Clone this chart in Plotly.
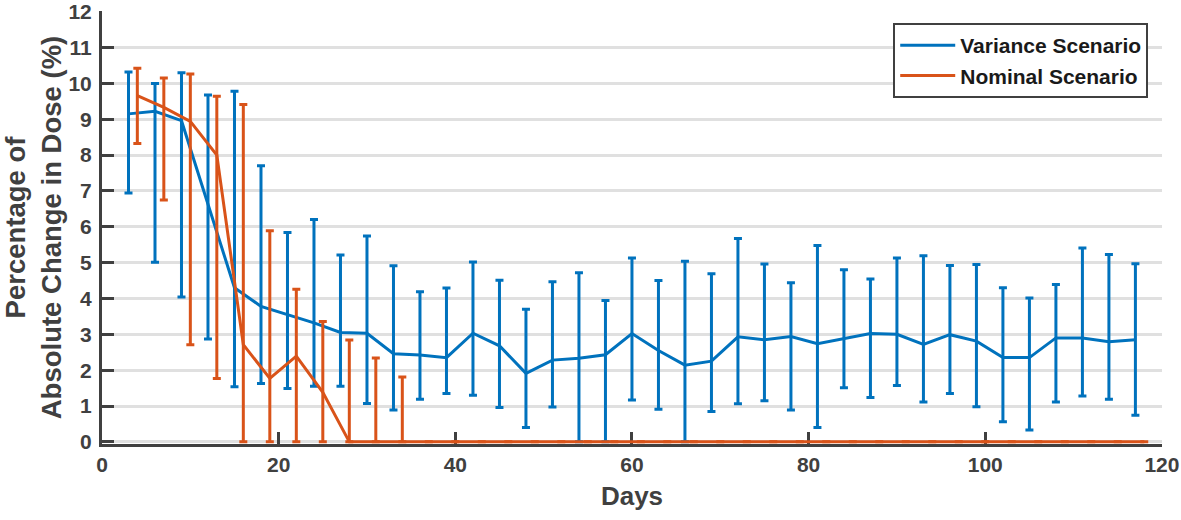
import plotly.graph_objects as go

# ---------------------------------------------------------------
# data (days, mean, top and bottom of the bars)
# ---------------------------------------------------------------
variance_days = [3, 6, 9, 12, 15, 18, 21, 24, 27, 30, 33, 36, 39, 42, 45, 48, 51, 54, 57, 60,
                 63, 66, 69, 72, 75, 78, 81, 84, 87, 90, 93, 96, 99, 102, 105, 108, 111, 114, 117]
variance_mean = [9.15, 9.22, 8.96, 6.6, 4.30, 3.78, 3.55, 3.32, 3.05, 3.03, 2.46, 2.42, 2.35,
                 3.03, 2.68, 1.91, 2.28, 2.33, 2.43, 3.02, 2.55, 2.14, 2.25, 2.93, 2.85, 2.94,
                 2.74, 2.88, 3.02, 3.00, 2.72, 2.99, 2.81, 2.35, 2.35, 2.90, 2.90, 2.79, 2.85]
variance_upper = [10.32, 10.0, 10.30, 9.68, 9.78, 7.70, 5.84, 6.20, 5.21, 5.74, 4.91, 4.19, 4.29,
                  5.02, 4.51, 3.70, 4.47, 4.72, 3.94, 5.13, 4.50, 5.04, 4.69, 5.67, 4.96, 4.44,
                  5.48, 4.80, 4.54, 5.13, 5.19, 4.92, 4.95, 4.30, 4.01, 4.39, 5.41, 5.23, 4.97]
variance_lower = [6.94, 5.01, 4.04, 2.87, 1.54, 1.63, 1.49, 1.55, 1.55, 1.07, 0.89, 1.19, 1.35,
                  1.30, 0.96, 0.40, 0.97, 0.0, 0.0, 1.17, 0.91, 0.0, 0.85, 1.06, 1.15, 0.89,
                  0.40, 1.51, 1.24, 1.57, 1.11, 1.35, 0.98, 0.56, 0.33, 1.11, 1.28, 1.19, 0.74]

nominal_days = [4, 7, 10, 13, 16, 19, 22, 25, 28, 31, 34, 37, 40, 43, 46, 49, 52, 55, 58, 61,
                64, 67, 70, 73, 76, 79, 82, 85, 88, 91, 94, 97, 100, 103, 106, 109, 112, 115, 118]
nominal_mean = [9.66, 9.33, 8.94, 8.0, 2.71, 1.77, 2.39, 1.38, 0, 0, 0, 0, 0,
                0, 0, 0, 0, 0, 0, 0, 0, 0, 0, 0, 0, 0,
                0, 0, 0, 0, 0, 0, 0, 0, 0, 0, 0, 0, 0]
nominal_upper = [10.42, 10.15, 10.26, 9.64, 9.41, 5.89, 4.26, 3.36, 2.84, 2.34, 1.81, 0, 0,
                 0, 0, 0, 0, 0, 0, 0, 0, 0, 0, 0, 0, 0,
                 0, 0, 0, 0, 0, 0, 0, 0, 0, 0, 0, 0, 0]
nominal_lower = [8.32, 6.75, 2.71, 1.77, 0, 0, 0, 0, 0, 0, 0, 0, 0,
                 0, 0, 0, 0, 0, 0, 0, 0, 0, 0, 0, 0, 0,
                 0, 0, 0, 0, 0, 0, 0, 0, 0, 0, 0, 0, 0]

x_ticks = [0, 20, 40, 60, 80, 100, 120]
y_ticks = [0, 1, 2, 3, 4, 5, 6, 7, 8, 9, 10, 11, 12]

BLUE = "#0072BD"
ORANGE = "#D95319"
AXIS = "#404040"
FONT = "Liberation Sans, Arial, sans-serif"


def series(name, days, mean, upper, lower, color):
    return go.Scatter(
        x=days, y=mean, name=name, mode="lines",
        line=dict(color=color, width=3),
        error_y=dict(
            type="data", symmetric=False,
            array=[u - m for u, m in zip(upper, mean)],
            arrayminus=[m - l for m, l in zip(mean, lower)],
            color=color, thickness=3, width=4,
        ),
        cliponaxis=False,
    )


fig = go.Figure()
fig.add_trace(series("Variance Scenario", variance_days, variance_mean,
                     variance_upper, variance_lower, BLUE))
fig.add_trace(series("Nominal Scenario", nominal_days, nominal_mean,
                     nominal_upper, nominal_lower, ORANGE))

fig.update_layout(
    width=1181, height=520,
    margin=dict(l=102, r=19, t=11, b=76),
    plot_bgcolor="white", paper_bgcolor="white",
    font=dict(family=FONT, color=AXIS),
    showlegend=True,
    legend=dict(
        x=0.987, xanchor="right", y=0.972, yanchor="top",
        bgcolor="white", bordercolor=AXIS, borderwidth=2,
        font=dict(size=21, color="#1a1a1a", weight="bold"),
        itemwidth=55,
        tracegroupgap=0,
    ),
    xaxis=dict(
        range=[0, 120.01], tickvals=x_ticks,
        showgrid=False, zeroline=False,
        showline=True, linecolor=AXIS, linewidth=3,
        ticks="inside", ticklen=12, tickwidth=3, tickcolor=AXIS,
        tickfont=dict(size=21, weight="bold", color=AXIS),
        ticklabelstandoff=0, ticklabeloverflow="allow",
        title=dict(text="Days", font=dict(size=26, weight="bold", color=AXIS), standoff=12),
        automargin=False,
        layer="below traces",
    ),
    yaxis=dict(
        range=[-0.06, 12.02], tickvals=y_ticks,
        showgrid=True, gridcolor="#e0e0e0", gridwidth=3,
        zeroline=False,
        showline=True, linecolor=AXIS, linewidth=3,
        ticks="inside", ticklen=12, tickwidth=3, tickcolor=AXIS,
        tickfont=dict(size=21, weight="bold", color=AXIS),
        ticklabelstandoff=3, ticklabeloverflow="allow",
        title=dict(text="Percentage of<br>Absolute Change in Dose (%)",
                   font=dict(size=27.5, weight="bold", color=AXIS), standoff=24),
        automargin=False,
        layer="below traces",
    ),
)

# drop the default 8px page margin so the figure sits at the window corner
fig.write_html("out.html", config={"displayModeBar": False},
               post_script="document.body.style.margin='0';")
